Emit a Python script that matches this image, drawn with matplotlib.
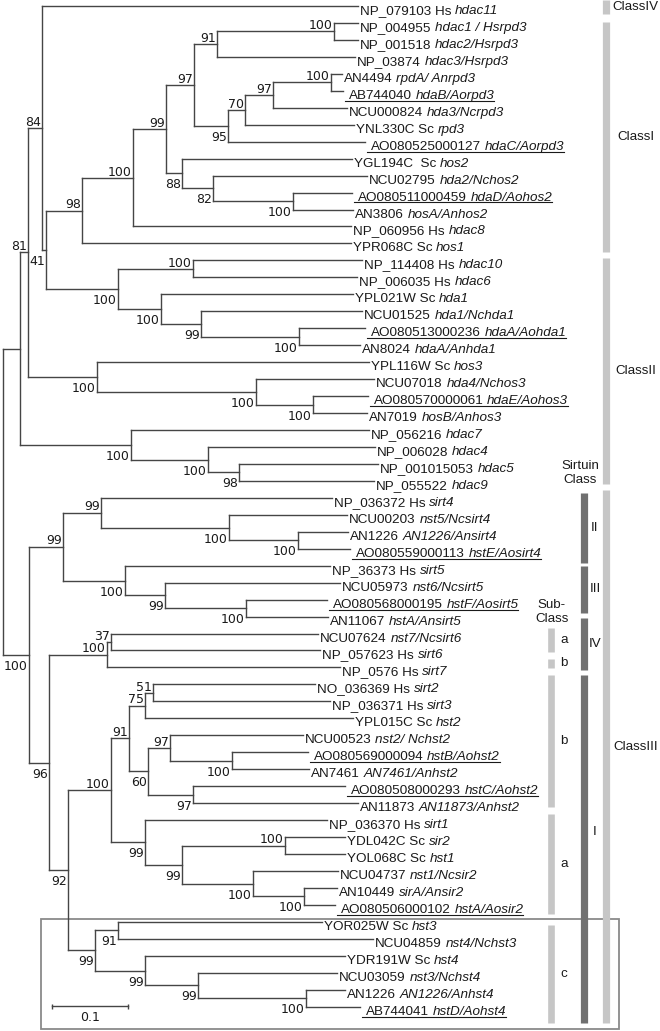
import matplotlib
matplotlib.use("Agg")
import matplotlib.pyplot as plt
from matplotlib.collections import LineCollection

# leaves, top to bottom: accession part (roman) and gene part (italic)
leaf_ids = ["NP_079103 Hs", "NP_004955", "NP_001518", "NP_03874", "AN4494", "AB744040",
            "NCU000824", "YNL330C Sc", "AO080525000127", "YGL194C  Sc", "NCU02795",
            "AO080511000459", "AN3806", "NP_060956 Hs", "YPR068C Sc",
            "NP_114408 Hs", "NP_006035 Hs", "YPL021W Sc", "NCU01525", "AO080513000236",
            "AN8024", "YPL116W Sc", "NCU07018", "AO080570000061", "AN7019", "NP_056216",
            "NP_006028", "NP_001015053", "NP_055522",
            "NP_036372 Hs", "NCU00203", "AN1226", "AO080559000113", "NP_36373 Hs",
            "NCU05973", "AO080568000195", "AN11067", "NCU07624", "NP_057623 Hs",
            "NP_0576 Hs", "NO_036369 Hs", "NP_036371 Hs", "YPL015C Sc", "NCU00523",
            "AO080569000094", "AN7461", "AO080508000293", "AN11873", "NP_036370 Hs",
            "YDL042C Sc", "YOL068C Sc", "NCU04737", "AN10449", "AO080506000102",
            "YOR025W Sc", "NCU04859", "YDR191W Sc", "NCU03059", "AN1226", "AB744041"]
leaf_genes = ["hdac11", "hdac1 / Hsrpd3", "hdac2/Hsrpd3", "hdac3/Hsrpd3", "rpdA/ Anrpd3",
              "hdaB/Aorpd3", "hda3/Ncrpd3", "rpd3", "hdaC/Aorpd3", "hos2", "hda2/Nchos2",
              "hdaD/Aohos2", "hosA/Anhos2", "hdac8", "hos1",
              "hdac10", "hdac6", "hda1", "hda1/Nchda1", "hdaA/Aohda1", "hdaA/Anhda1", "hos3",
              "hda4/Nchos3", "hdaE/Aohos3", "hosB/Anhos3", "hdac7", "hdac4", "hdac5", "hdac9",
              "sirt4", "nst5/Ncsirt4", "AN1226/Ansirt4", "hstE/Aosirt4", "sirt5",
              "nst6/Ncsirt5", "hstF/Aosirt5", "hstA/Ansirt5", "nst7/Ncsirt6", "sirt6", "sirt7",
              "sirt2", "sirt3", "hst2", "nst2/ Nchst2", "hstB/Aohst2", "AN7461/Anhst2",
              "hstC/Aohst2", "AN11873/Anhst2", "sirt1", "sir2", "hst1", "nst1/Ncsir2",
              "sirA/Ansir2", "hstA/Aosir2", "hst3", "nst4/Nchst3", "hst4", "nst3/Nchst4",
              "AN1226/Anhst4", "hstD/Aohst4"]
# tip position of every leaf (distance from root, drawing pixels; 0.1 subst. = 76 px)
leaf_x = [358, 358, 358, 355, 342, 343, 347, 354, 365, 352, 367, 352, 353, 351, 351,
          362, 357, 353, 362, 365, 360, 369, 374, 368, 367, 369, 375, 378, 374,
          332, 347, 348, 350, 330, 340, 327, 328, 318, 320, 340, 315, 330, 353, 303,
          308, 309, 345, 358, 327, 345, 345, 338, 337, 335, 322, 373, 345, 337, 345, 360]

# internal nodes: name -> (x, upper child, lower child, bootstrap)
nodes = {
    "root": (3, "n20", "n29", None),
    "n20": (20, "n28", "n131", None),
    "n28": (28, "n42", "n97", 81),
    "n42": (42, 0, "n46", 84),
    "n46": (46, "n82", "n118", 41),
    "n82": (82, "n133", 14, 98),
    "n133": (133, "n166", 13, 100),
    "n166": (166, "n194", "n182", 99),
    "n194": (194, "n217", "n228", 97),
    "n217": (217, "n334", 3, 91),
    "n334": (334, 1, 2, 100),
    "n228": (228, "n245", 8, 95),
    "n245": (245, "n273", 7, 70),
    "n273": (273, "n330", 6, 97),
    "n330": (331, 4, 5, 100),
    "n182": (182, 9, "n213", 88),
    "n213": (213, 10, "n293", 82),
    "n293": (293, 11, 12, 100),
    "n118": (118, "n193", "n161", 100),
    "n193": (193, 15, 16, 100),
    "n161": (161, 17, "n201", 100),
    "n201": (201, 18, "n299", 99),
    "n299": (299, 19, 20, 100),
    "n97": (97, 21, "n256", 100),
    "n256": (256, 22, "n313", 100),
    "n313": (313, 23, 24, 100),
    "n131": (131, 25, "n208", 100),
    "n208": (208, 26, "n239", 100),
    "n239": (239, 27, 28, 98),
    "n29": (29, "n63", "n49", 100),
    "n63": (63, "n101", "n125", 99),
    "n101": (101, 29, "n229", 99),
    "n229": (229, 30, "n298", 100),
    "n298": (298, 31, 32, 100),
    "n125": (125, 33, "n165", 100),
    "n165": (165, 34, "n246", 99),
    "n246": (246, 35, 36, 100),
    "n49": (49, "n107", "n68", 96),
    "n107": (107, "n111", 39, 100),
    "n111": (111, 37, 38, 37),
    "n68": (68, "n111b", "n95", 92),
    "n111b": (111, "n129", "n145", 100),
    "n129": (129, "n145b", "n148", 91),
    "n145b": (145, "n153", 42, 75),
    "n153": (153, 40, 41, 51),
    "n148": (148, "n170", "n193b", 60),
    "n170": (170, 43, "n232", 97),
    "n232": (232, 44, 45, 100),
    "n193b": (193, 46, 47, 97),
    "n145": (145, 48, "n182b", 99),
    "n182b": (182, "n285", "n253", 99),
    "n285": (285, 49, 50, 100),
    "n253": (253, 51, "n304", 100),
    "n304": (304, 52, 53, 100),
    "n95": (95, "n118b", "n145c", 99),
    "n118b": (118, 54, 55, 91),
    "n145c": (145, 56, "n198", 99),
    "n198": (198, 57, "n306", 99),
    "n306": (306, 58, 59, 100),
}
labels_below = ["n118b"]

# class annotations (vertical extents in drawing pixels)
class_names = ["ClassIV", "ClassI", "ClassII", "ClassIII"]
class_spans = [(0, 14), (22, 252), (258, 484), (490, 1023)]
sirt_names = ["II", "III", "IV", "I"]
sirt_spans = [(493, 563), (566, 613), (618, 670), (675, 1023)]
sub_names = ["a", "b", "b", "a", "c"]
sub_spans = [(628, 652), (659, 668), (675, 807), (814, 914), (925, 1023)]

W, H = 660, 1031
row, top = 16.96, 6.0
line_col = "#454545"
txt_col = "#1a1a1a"
light, dark = "#c6c6c6", "#707070"
lab_font = "Liberation Sans"
leaf_size = 9.7
cls_size = 9.6
bs_size = 9.0

fig = plt.figure(figsize=(W / 100, H / 100), dpi=100)
ax = fig.add_axes([0, 0, 1, 1])
ax.set_xlim(0, W)
ax.set_ylim(H, 0)
ax.axis("off")


def ypos(c):
    if isinstance(c, int):
        return top + row * c
    return (ypos(nodes[c][1]) + ypos(nodes[c][2])) / 2


def xpos(c):
    return leaf_x[c] if isinstance(c, int) else nodes[c][0]


segs = []
for name, (x, a, b, bs) in nodes.items():
    segs.append([(x, ypos(a)), (x, ypos(b))])
    for k, c in enumerate((a, b)):
        yc = ypos(c)
        segs.append([(x, yc), (xpos(c), yc)])
        if isinstance(c, int) or nodes[c][3] is None:
            continue
        above = k == 0 and c not in labels_below
        ax.text(xpos(c) - 1, yc - 2.3 if above else yc + 15, str(nodes[c][3]),
                ha="right", va="baseline", fontsize=bs_size, color=txt_col,
                family="DejaVu Sans")
ax.add_collection(LineCollection(segs, colors=line_col, linewidths=1.0, capstyle="projecting"))

# leaf labels
pairs = []
space_pt = 0.278 * leaf_size
for i, (acc, gene) in enumerate(zip(leaf_ids, leaf_genes)):
    y = ypos(i) + 8.0
    ul = acc.startswith("AO") or acc.startswith("AB")
    x0 = leaf_x[i] + 2 + (3.7 if ul else 0)
    t1 = ax.text(x0, y, acc, ha="left", va="baseline", fontsize=leaf_size,
                 family=lab_font, color=txt_col)
    t2 = ax.annotate(gene, xy=(1, y), xycoords=(t1, "data"), xytext=(space_pt, 0),
                     textcoords="offset points", ha="left", va="baseline",
                     fontsize=leaf_size, family=lab_font, style="italic", color=txt_col)
    if ul:
        pairs.append((i, t1, t2, y))

# class bars
for name, (y0, y1) in zip(class_names, class_spans):
    ax.vlines(606, y0, y1, color=light, lw=5.2, capstyle="butt")
    if name == "ClassIV":
        ax.text(612, (y0 + y1) / 2, name, ha="left", va="center", fontsize=cls_size,
                family=lab_font, color=txt_col)
    else:
        ax.text(636, (y0 + y1) / 2 + (0 if name != "ClassIII" else -10), name,
                ha="center", va="center", fontsize=cls_size, family=lab_font, color=txt_col)
for name, (y0, y1) in zip(sirt_names, sirt_spans):
    ax.vlines(583.5, y0, y1, color=dark, lw=5.2, capstyle="butt")
    ax.text(595, (y0 + y1) / 2 if name != "I" else 832, name, ha="center", va="center",
            fontsize=cls_size, family=lab_font, color=txt_col)
for name, (y0, y1) in zip(sub_names, sub_spans):
    ax.vlines(551, y0, y1, color=light, lw=4.8, capstyle="butt")
    ax.text(564, (y0 + y1) / 2, name, ha="center", va="center", fontsize=cls_size,
            family=lab_font, color=txt_col)
ax.text(580, 473, "Sirtuin\nClass", ha="center", va="center", fontsize=cls_size,
        family=lab_font, color=txt_col, linespacing=1.15)
ax.text(552, 612, "Sub-\nClass", ha="center", va="center", fontsize=cls_size,
        family=lab_font, color=txt_col, linespacing=1.15)

# box around subclass c
ax.add_patch(plt.Rectangle((41, 919), 578, 110, fill=False, ec="#8a8a8a", lw=1.3))

# scale bar (0.1 substitutions per site)
ax.plot([52, 128], [1006, 1006], color=line_col, lw=1.0)
ax.vlines([52, 128], 1003.5, 1008.5, color=line_col, lw=1.0)
ax.text(90, 1021, "0.1", ha="center", va="baseline", fontsize=bs_size,
        family="DejaVu Sans", color=txt_col)

# underline the A. oryzae genes
fig.canvas.draw()
inv = ax.transData.inverted()
for i, t1, t2, y in pairs:
    right = t2.get_window_extent().x1
    xr = inv.transform((right, 0))[0]
    ax.plot([leaf_x[i] + 2, xr], [y + 1.9, y + 1.9], color=txt_col, lw=0.8)

fig.savefig("out.png", dpi=100)
